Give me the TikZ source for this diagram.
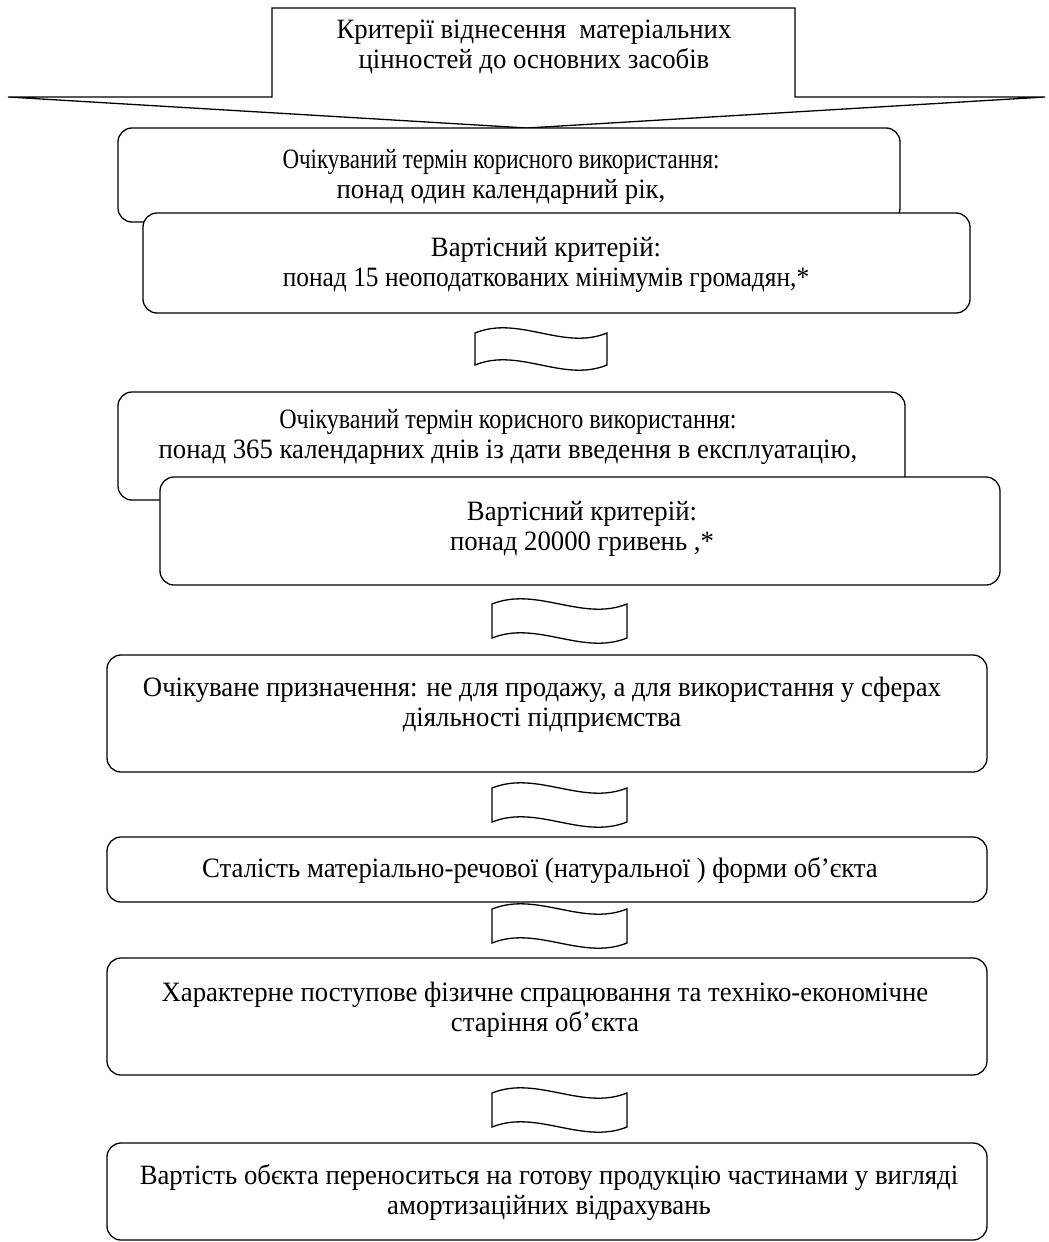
\documentclass[tikz,border=0pt]{standalone}
\usepackage{fontspec}
\setmainfont{Liberation Serif}[FakeStretch=0.955]
\newcommand{\narrowline}[2]{\scalebox{#1}[1]{#2}}
\begin{document}
\begin{tikzpicture}[x=1pt,y=-1pt,
  line width=1.3pt,
  rbox/.style={draw,fill=white,rounded corners=14pt,inner sep=0pt},
  txt/.style={align=center,inner sep=0pt,font=\fontsize{28}{30}\selectfont},
  wave/.style={draw,fill=white,line width=1.3pt}]
\useasboundingbox (0,0) rectangle (1049,1242);
% callout
\draw (272,97) -- (272,8) -- (795,8) -- (795,97) -- (1045,97) -- (527,128) -- (8,97) -- cycle;
\node[txt] (t0) at (534,47) {Критерії віднесення\ \ матеріальних\\цінностей до основних засобів};
% boxes
\path (118,128) coordinate (a1) (900,222) coordinate (b1);
\draw[rbox] (a1) rectangle (b1);
\node[txt] (t1) at (501,177) {\narrowline{0.86}{Очікуваний термін корисного використання:}\\понад один календарний рік,};
\path (143,213) coordinate (a2) (970,313) coordinate (b2);
\draw[rbox] (a2) rectangle (b2);
\node[txt] (t2) at (546,265) {Вартісний критерій:\\\narrowline{0.95}{понад 15 неоподаткованих мінімумів громадян,*}};
\path (118,392) coordinate (a3) (905,500) coordinate (b3);
\draw[rbox] (a3) rectangle (b3);
\node[txt] (t3) at (508,437) {\narrowline{0.9}{Очікуваний термін корисного використання:}\\понад 365 календарних днів із дати введення в експлуатацію,};
\path (160,477) coordinate (a4) (1000,585) coordinate (b4);
\draw[rbox] (a4) rectangle (b4);
\node[txt] (t4) at (582,529) {Вартісний критерій:\\понад 20000 гривень ,*};
\path (107,655) coordinate (a5) (987,772) coordinate (b5);
\draw[rbox] (a5) rectangle (b5);
\node[txt] (t5) at (542,705) {Очікуване призначення: не для продажу, а для використання у сферах\\діяльності підприємства};
\path (107,837) coordinate (a6) (987,902) coordinate (b6);
\draw[rbox] (a6) rectangle (b6);
\node[txt] (t6) at (540,870) {Сталість матеріально-речової (натуральної ) форми об’єкта};
\path (107,958) coordinate (a7) (987,1075) coordinate (b7);
\draw[rbox] (a7) rectangle (b7);
\node[txt] (t7) at (545,1010) {Характерне поступове фізичне спрацювання та техніко-економічне\\старіння об’єкта};
\path (107,1143) coordinate (a8) (987,1240) coordinate (b8);
\draw[rbox] (a8) rectangle (b8);
\node[txt] (t8) at (549,1192) {Вартість обєкта переноситься на готову продукцію частинами у вигляді\\амортизаційних відрахувань};
% waves
\foreach \x/\y/\w/\h in {475/333/132/32, 492/604/135/34, 492/788/135/34, 492/909/135/34, 492/1093/135/34}{
  \draw[wave] (\x,\y) .. controls ++(\w/3,-18) and ++(-\w/3,18) .. ++(\w,0)
    -- ++(0,\h) .. controls ++(-\w/3,18) and ++(\w/3,-18) .. ++(-\w,0) -- cycle;
}
\end{tikzpicture}
\end{document}
